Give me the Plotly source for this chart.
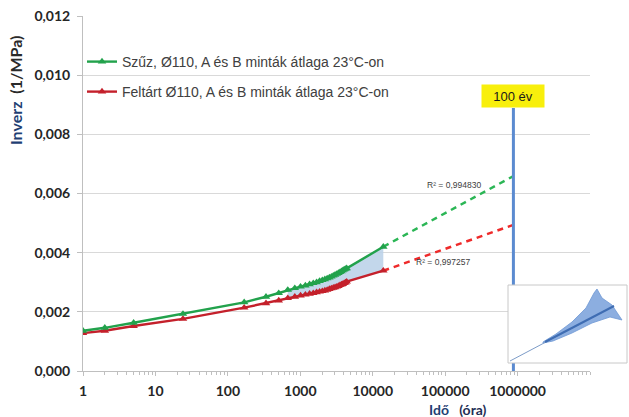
import plotly.graph_objects as go

# Creep compliance (1/MPa) vs. time (hours), mean of samples A and B at 23 °C
hours = [1, 2, 5, 24, 168, 336, 504, 672, 840, 1008, 1176, 1344, 1512, 1680,
         1848, 2016, 2184, 2352, 2520, 2688, 2856, 3024, 3192, 3360, 3528,
         3696, 3864, 4032, 4200, 4368, 14000]
szuz = [0.00136, 0.00146, 0.00163, 0.00193, 0.00232, 0.00251, 0.00263, 0.00274,
        0.00280, 0.00285, 0.00289, 0.00293, 0.00297, 0.00300, 0.00304, 0.00307,
        0.00310, 0.00313, 0.00316, 0.00319, 0.00322, 0.00325, 0.00328, 0.00331,
        0.00334, 0.00337, 0.00340, 0.00343, 0.00345, 0.00347, 0.00420]
feltart = [0.00128, 0.00136, 0.00152, 0.00176, 0.00214, 0.00229, 0.00238, 0.00246,
           0.00251, 0.00255, 0.00258, 0.00261, 0.00263, 0.00266, 0.00268, 0.00270,
           0.00272, 0.00274, 0.00277, 0.00279, 0.00281, 0.00283, 0.00285, 0.00287,
           0.00290, 0.00292, 0.00294, 0.00297, 0.00299, 0.00302, 0.00339]

# Trend-line extrapolation to 100 years (876 000 h)
trend_hours = [14000, 876000]
szuz_trend = [0.00420, 0.00659]
feltart_trend = [0.00339, 0.00494]
r2_szuz = "0,994830"
r2_feltart = "0,997257"
year100_hours = 876000

x_tick_vals = [1, 10, 100, 1000, 10000, 100000, 1000000]
x_tick_text = ["1", "10", "100", "1000", "10000", "100000", "1000000"]
y_tick_vals = [0, 0.002, 0.004, 0.006, 0.008, 0.010, 0.012]

W, H = 629, 417
L, R, T, B = 83, 39, 16, 46
PW, PH = W - L - R, H - T - B


def px_x(px):
    return (px - L) / PW


def px_y(py):
    return (H - B - py) / PH


GREEN = "#22a24c"
RED = "#c4202b"
GREEN_D = "#2bb655"
RED_D = "#ee2a2a"

fig = go.Figure()

# shaded band between the two measured curves
band_start = 672
bx = [h for h in hours if h >= band_start]
gy = [v for h, v in zip(hours, szuz) if h >= band_start]
ry = [v for h, v in zip(hours, feltart) if h >= band_start]
fig.add_trace(go.Scatter(x=bx + bx[::-1], y=gy + ry[::-1], fill="toself",
                         fillcolor="rgba(184,208,232,0.85)", line=dict(width=0),
                         mode="lines", hoverinfo="skip", showlegend=False))

# dashed extrapolations
fig.add_trace(go.Scatter(x=trend_hours, y=szuz_trend, mode="lines",
                         line=dict(color=GREEN_D, width=2.5, dash="6px,5px"),
                         showlegend=False))
fig.add_trace(go.Scatter(x=trend_hours, y=feltart_trend, mode="lines",
                         line=dict(color=RED_D, width=2.5, dash="6px,5px"),
                         showlegend=False))

fig.add_trace(go.Scatter(x=hours, y=feltart, mode="lines+markers",
                         name="Feltárt Ø110, A és B minták átlaga 23°C-on",
                         line=dict(color=RED, width=2.4),
                         marker=dict(symbol="triangle-up", size=7.5, color=RED),
                         legend="legend2"))
fig.add_trace(go.Scatter(x=hours, y=szuz, mode="lines+markers",
                         name="Szűz, Ø110, A és B minták átlaga 23°C-on",
                         line=dict(color=GREEN, width=2.4),
                         marker=dict(symbol="triangle-up", size=7.5, color=GREEN),
                         legend="legend"))

tick_font = dict(family="Lato", size=14, color="#262626", weight="bold")
leg_font = dict(family="Liberation Sans", size=14, color="#404040")

minor_vals = [m * 10 ** d for d in range(7) for m in range(2, 10)] + [10 ** 7]

fig.update_layout(
    width=W, height=H,
    margin=dict(l=L, r=R, t=T, b=B, autoexpand=False),
    paper_bgcolor="white", plot_bgcolor="white",
    separators=",.",
    xaxis=dict(type="log", range=[0, 7], tickmode="array",
               tickvals=x_tick_vals, ticktext=x_tick_text, automargin=False,
               showgrid=False, zeroline=False, showline=True,
               linecolor="#bfbfbf", linewidth=1,
               ticks="outside", ticklen=4, tickcolor="#bfbfbf",
               ticklabelstandoff=3, tickfont=tick_font,
               minor=dict(tickmode="array", tickvals=minor_vals, ticks="outside",
                          ticklen=3, tickcolor="#bfbfbf", showgrid=False)),
    yaxis=dict(range=[0, 0.012], tickmode="array", tickvals=y_tick_vals,
               tickformat=".3f", showgrid=True, gridcolor="#d9d9d9", gridwidth=1,
               zeroline=False, showline=True, linecolor="#bfbfbf", linewidth=1,
               ticks="outside", ticklen=5, tickcolor="#bfbfbf", automargin=False,
               ticklabelstandoff=4, tickfont=tick_font),
    legend=dict(x=px_x(82), y=px_y(62), xanchor="left", yanchor="middle",
                bgcolor="rgba(0,0,0,0)", font=leg_font, itemwidth=30),
    legend2=dict(x=px_x(82), y=px_y(92), xanchor="left", yanchor="middle",
                 bgcolor="rgba(0,0,0,0)", font=leg_font, itemwidth=30),
    showlegend=True,
)

# axis titles
fig.add_annotation(
    text="<b><span style='color:#1f3f73'>Inverz</span>&nbsp;&nbsp;"
         "<span style='color:#2a2a2a'>(1/MPa)</span></b>",
    xref="paper", yref="paper", x=px_x(15), y=px_y(91), textangle=-90,
    xanchor="center", yanchor="middle",
    showarrow=False, font=dict(family="Lato", size=16))
fig.add_annotation(
    text="<b><span style='color:#1f3f73'>Idő</span>&nbsp;&nbsp;&nbsp;"
         "<span style='color:#1f2f55'>(óra)</span></b>",
    xref="paper", yref="paper", x=px_x(458), y=px_y(409),
    xanchor="center", yanchor="middle",
    showarrow=False, font=dict(family="Lato", size=14))

# R² labels of the trend lines
fig.add_annotation(text="R² = " + r2_szuz, x=5.122, y=0.00629, xref="x", yref="y",
                   showarrow=False, font=dict(family="Liberation Sans", size=8.5, color="#404040"))
fig.add_annotation(text="R² = " + r2_feltart, x=4.97, y=0.003685, xref="x", yref="y",
                   showarrow=False, font=dict(family="Liberation Sans", size=8.5, color="#404040"))

# 100-year marker
fig.add_shape(type="line", xref="x", yref="y", x0=year100_hours, x1=year100_hours,
              y0=0, y1=0.00889, line=dict(color="#5b8bd0", width=3), layer="above")
fig.add_annotation(text="100 év", x=5.9425, y=0.00889, xref="x", yref="y",
                   xanchor="center", yanchor="bottom", showarrow=False,
                   bgcolor="#f8ef0c", width=60, height=20,
                   font=dict(family="Liberation Sans", size=13, color="#1a1a1a"))

# small inset: confidence fan of the extrapolation
fig.add_shape(type="rect", xref="paper", yref="paper",
              x0=px_x(508), x1=px_x(627), y0=px_y(363), y1=px_y(285),
              fillcolor="white", line=dict(color="#c8c8c8", width=1), layer="above")
fan = [(543, 342), (556, 334), (572, 322), (586, 308), (594, 293), (597, 289),
       (602, 298), (612, 305), (622, 320), (610, 317), (592, 323), (572, 333),
       (553, 341), (543, 343)]
path = "M " + " L ".join(f"{px_x(a):.4f},{px_y(b):.4f}" for a, b in fan) + " Z"
fig.add_shape(type="path", xref="paper", yref="paper", path=path,
              fillcolor="rgba(120,160,218,0.85)", line=dict(color="#6f98d4", width=0.8),
              layer="above")
fig.add_shape(type="line", xref="paper", yref="paper",
              x0=px_x(510), y0=px_y(361), x1=px_x(614), y1=px_y(306),
              line=dict(color="#7d9cc8", width=1), layer="above")
fig.add_shape(type="line", xref="paper", yref="paper",
              x0=px_x(545), y0=px_y(342), x1=px_x(614), y1=px_y(306),
              line=dict(color="#3f6db3", width=2), layer="above")

fig.write_html("out.html")
